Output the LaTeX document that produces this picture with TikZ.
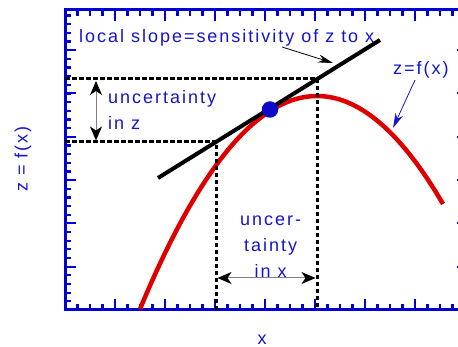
\documentclass[tikz,border=0pt]{standalone}
\usepackage{fontspec}
\setmainfont{Liberation Sans}[LetterSpace=11]
\usetikzlibrary{arrows.meta}

\definecolor{axisblue}{RGB}{0,0,210}
\definecolor{labelblue}{RGB}{20,20,205}
\definecolor{curvered}{RGB}{222,0,0}
\definecolor{dotblue}{RGB}{10,10,200}

\begin{document}
\begin{tikzpicture}[x=1pt, y=-1pt,
    lbl/.style={text=labelblue, font=\fontsize{18}{26}\selectfont, inner sep=0pt},
    axisline/.style={draw=axisblue, line width=3pt},
    axtick/.style={draw=axisblue, line width=2.2pt},
    dashbox/.style={draw=black, line width=3pt, dash pattern=on 4.5pt off 2.5pt},
    span/.style={draw=gray, line width=1pt,
        {Stealth[black, length=14pt, width=12pt, inset=4pt]}-{Stealth[black, length=14pt, width=12pt, inset=4pt]}},
    pointer/.style={line width=0.8pt, -{Stealth[length=15pt, width=8pt]}}]

    \clip (0,0) rectangle (458,347);

    % frame and ticks
    \draw[axisline] (65,10) rectangle (468,310);
    \foreach \x in {77.5,90,...,465} {
        \draw[axtick] (\x,310) -- ++(0,-6);
        \draw[axtick] (\x,10) -- ++(0,6);
    }
    \foreach \x in {115,165,...,465} {
        \draw[axtick] (\x,310) -- ++(0,-11);
        \draw[axtick] (\x,10) -- ++(0,11);
    }
    \foreach \y in {301.33,292.67,...,12} {
        \draw[axtick] (65,\y) -- ++(6,0);
        \draw[axtick] (468,\y) -- ++(-6,0);
    }
    \foreach \y in {266.67,223.33,...,12} {
        \draw[axtick] (65,\y) -- ++(11,0);
        \draw[axtick] (468,\y) -- ++(-11,0);
    }

    % z = f(x)
    \draw[curvered, line width=4.5pt] plot[domain=140:443, samples=80]
        (\x, {96+0.68*((\x-317)/10)^2});

    % tangent and its box
    \coordinate (ta) at (158,178);
    \coordinate (tb) at (380,40);
    \coordinate (lo) at (216,142);
    \coordinate (hi) at (317,79);
    \coordinate (zlo) at (65,142);
    \coordinate (zhi) at (65,79);
    \coordinate (O) at (65,310);
    \draw[black, line width=4pt] (ta) -- (tb);
    \draw[dashbox] (zlo) -- (lo) -- (lo |- O);
    \draw[dashbox] (zhi) -- (hi) -- (hi |- O);
    \node[circle, fill=dotblue, minimum size=16.5pt, inner sep=0pt] (pt) at (270,109.5) {};

    % uncertainty arrows
    \coordinate (uzt) at (96,81);
    \coordinate (uzb) at (96,140.5);
    \coordinate (uxl) at (217.5,278);
    \coordinate (uxr) at (315.5,278);
    \draw[span] (uzt) -- (uzb);
    \draw[span] (uxl) -- (uxr);

    % labels
    \node[lbl, anchor=base west] (slopelbl) at (79,42.5) {local slope=sensitivity of z to x};
    \node[lbl, anchor=base west] (flbl) at (393,75) {z=f(x)};
    \node[lbl, anchor=base west, align=left] (uzlbl) at (108,130) {uncertainty\\in z};
    \node[lbl, anchor=base, align=center] (uxlbl) at (270.7,278) {uncer-\\tainty\\in x};
    \node[lbl, anchor=base] (xlbl) at (262,344.5) {x};
    \node[lbl, anchor=base west, rotate=90] (zlbl) at (27.5,192) {z = f(x)};

    % pointers
    \coordinate (sp) at (282,47);
    \coordinate (st) at (333,63);
    \coordinate (fp) at (415,80);
    \coordinate (ft) at (393,128);
    \draw[pointer, black] (sp) -- (st);
    \draw[pointer, labelblue] (fp) -- (ft);
\end{tikzpicture}
\end{document}
